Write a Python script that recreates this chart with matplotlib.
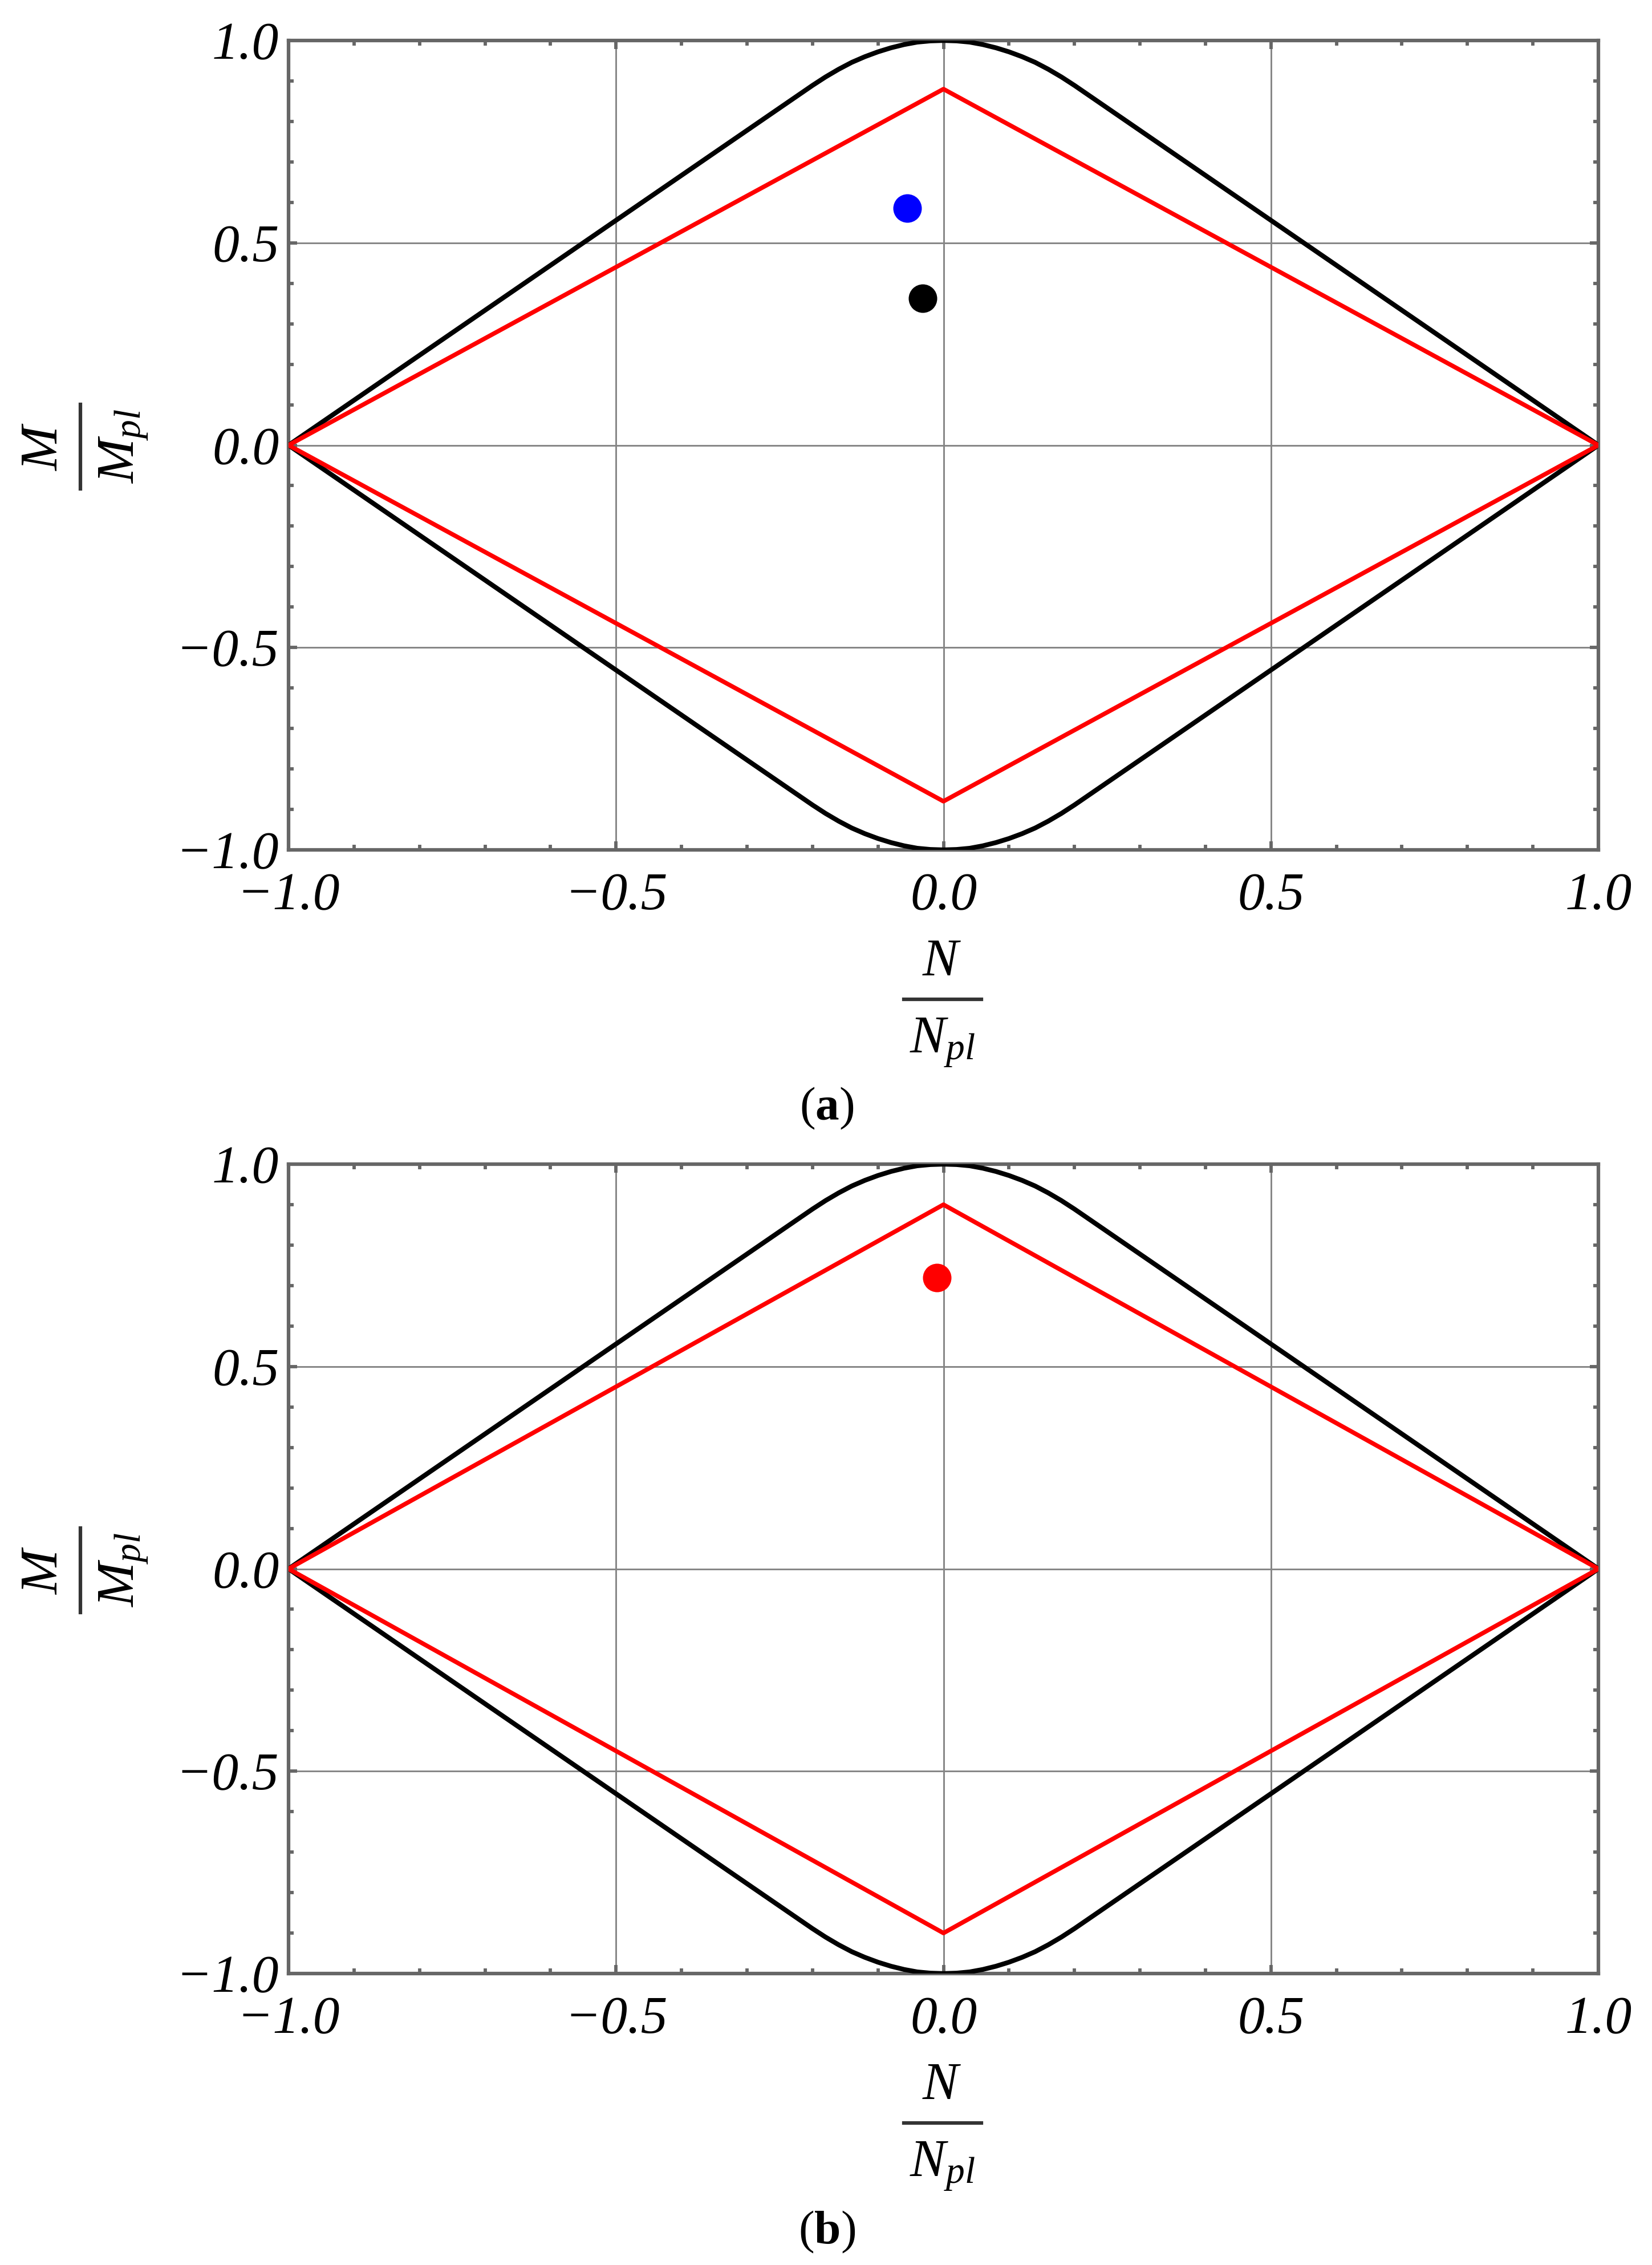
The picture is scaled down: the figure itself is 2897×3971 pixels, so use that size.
import numpy as np
import matplotlib
matplotlib.use('Agg')
import matplotlib.pyplot as plt
from matplotlib.ticker import MultipleLocator, FixedLocator
from matplotlib.lines import Line2D

# ---------------- data ----------------
# upper half of the black interaction envelope (lower half is its mirror)
n_env = [-1.0, -0.20, -0.18, -0.16, -0.14, -0.12, -0.10, -0.08, -0.06, -0.04, -0.02, 0.0,
         0.02, 0.04, 0.06, 0.08, 0.10, 0.12, 0.14, 0.16, 0.18, 0.20, 1.0]
m_env = [0.0, 0.889, 0.910, 0.929, 0.946, 0.960, 0.972, 0.982, 0.990, 0.996, 0.999, 1.0,
         0.999, 0.996, 0.990, 0.982, 0.972, 0.960, 0.946, 0.929, 0.910, 0.889, 0.0]
# red linear (diamond) envelope, upper half
n_red = [-1.0, 0.0, 1.0]
m_red_a = [0.0, 0.88, 0.0]
m_red_b = [0.0, 0.90, 0.0]
# points
pts_a_n = [-0.055, -0.032]
pts_a_m = [0.586, 0.363]
pts_a_c = ['#0000ff', '#000000']
pts_b_n = [-0.010]
pts_b_m = [0.719]
pts_b_c = ['#ff0000']
ticks = [-1.0, -0.5, 0.0, 0.5, 1.0]
panel_labels = ['a', 'b']

# ---------------- style ----------------
plt.rcParams['font.family'] = ['Liberation Serif', 'DejaVu Serif']
plt.rcParams['mathtext.fontset'] = 'custom'
plt.rcParams['mathtext.it'] = 'Liberation Serif:italic'
plt.rcParams['mathtext.rm'] = 'Liberation Serif'
plt.rcParams['mathtext.bf'] = 'Liberation Serif:bold'

W, H = 2897, 3971
DPI = 300
fig = plt.figure(figsize=(W / DPI, H / DPI), dpi=DPI)


def fx(x):
    return x / W


def fy(y):
    return 1 - y / H


SPINE = '#666666'
FS = 22.5

panels = [
    dict(red=m_red_a, pn=pts_a_n, pm=pts_a_m, pc=pts_a_c, top=71, bot=1490, dy=0),
    dict(red=m_red_b, pn=pts_b_n, pm=pts_b_m, pc=pts_b_c, top=2041, bot=3460, dy=1970),
]

for i, p in enumerate(panels):
    left, right = 506, 2803
    ax = fig.add_axes([fx(left), fy(p['bot']), (right - left) / W, (p['bot'] - p['top']) / H])
    ax.set_xlim(-1, 1)
    ax.set_ylim(-1, 1)
    ax.xaxis.set_major_locator(FixedLocator(ticks))
    ax.yaxis.set_major_locator(FixedLocator(ticks))
    ax.xaxis.set_minor_locator(MultipleLocator(0.1))
    ax.yaxis.set_minor_locator(MultipleLocator(0.1))
    ax.grid(which='major', color='#858585', lw=0.7, zorder=0)
    ax.set_axisbelow(True)
    for s in ax.spines.values():
        s.set_color(SPINE)
        s.set_linewidth(1.5)
    ax.tick_params(which='both', direction='in', top=True, right=True, color=SPINE,
                   width=1.4, labelsize=FS)
    ax.tick_params(which='major', length=3.6)
    ax.tick_params(which='minor', length=2.2)
    ax.tick_params(axis='x', which='major', pad=9.5)
    ax.tick_params(axis='y', which='major', pad=4)
    for lab in ax.get_xticklabels() + ax.get_yticklabels():
        lab.set_fontstyle('italic')
        lab.set_family('Liberation Serif')

    ne = np.array(n_env)
    me = np.array(m_env)
    ax.plot(ne, me, color='black', lw=2.0, zorder=3, solid_joinstyle='round')
    ax.plot(ne, -me, color='black', lw=2.0, zorder=3, solid_joinstyle='round')
    nr = np.array(n_red)
    mr = np.array(p['red'])
    ax.plot(nr, mr, color='#ff0000', lw=1.85, zorder=4)
    ax.plot(nr, -mr, color='#ff0000', lw=1.85, zorder=4)
    for xn, ym, c in zip(p['pn'], p['pm'], p['pc']):
        ax.plot([xn], [ym], 'o', color=c, markersize=12, markeredgewidth=0, zorder=5)

    dy = p['dy']
    # x label: N / N_pl
    fig.text(fx(1652), fy(1710 + dy), r'$N$', ha='center', va='baseline', fontsize=FS)
    fig.add_artist(Line2D([fx(1585), fx(1721)], [fy(1752 + dy), fy(1752 + dy)],
                          color='#333333', lw=1.5, transform=fig.transFigure))
    fig.text(fx(1652), fy(1845 + dy), r'$N_{pl}$', ha='center', va='baseline', fontsize=FS)
    # y label: M / M_pl (rotated)
    yc = 783 + dy
    fig.text(fx(100), fy(yc), r'$M$', rotation=90, rotation_mode='anchor',
             ha='center', va='baseline', fontsize=FS)
    fig.add_artist(Line2D([fx(141), fx(141)], [fy(yc - 74), fy(yc + 74)],
                          color='#333333', lw=1.5, transform=fig.transFigure))
    fig.text(fx(234), fy(yc), r'$M_{pl}$', rotation=90, rotation_mode='anchor',
             ha='center', va='baseline', fontsize=FS)
    # panel label
    fig.text(fx(1450), fy(1963 + dy), '(' + r'$\mathbf{' + panel_labels[i] + '}$' + ')',
             ha='center', va='baseline', fontsize=20)

fig.savefig('out.png', dpi=DPI, facecolor='white')
